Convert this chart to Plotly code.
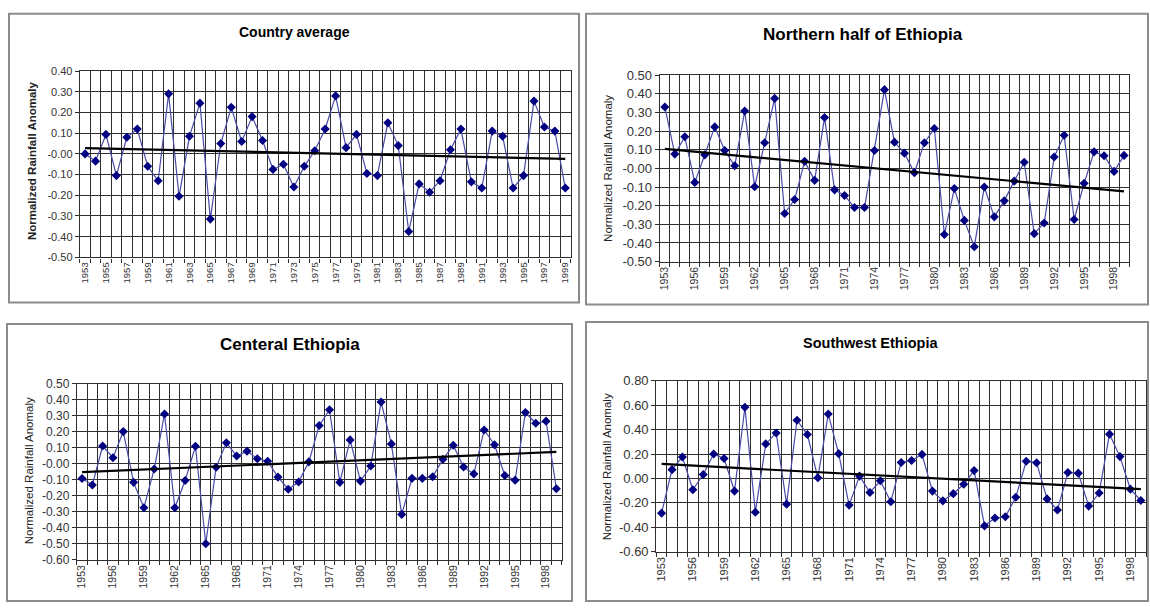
import numpy as np
import plotly.graph_objects as go

W, H = 1150, 610

years = list(range(1953, 2000))

country_avg = [0.00, -0.035, 0.094, -0.105, 0.08, 0.12, -0.06, -0.13, 0.29, -0.205,
               0.085, 0.245, -0.315, 0.05, 0.225, 0.06, 0.18, 0.065, -0.075, -0.05,
               -0.16, -0.06, 0.015, 0.12, 0.28, 0.03, 0.094, -0.095, -0.105, 0.15,
               0.04, -0.375, -0.145, -0.185, -0.13, 0.02, 0.12, -0.135, -0.165, 0.11,
               0.085, -0.165, -0.105, 0.255, 0.13, 0.11, -0.165]

northern = [0.33, 0.077, 0.17, -0.075, 0.073, 0.223, 0.096, 0.014, 0.308, -0.098,
            0.138, 0.376, -0.242, -0.167, 0.038, -0.064, 0.273, -0.115, -0.145, -0.21,
            -0.21, 0.096, 0.423, 0.141, 0.082, -0.023, 0.138, 0.214, -0.355, -0.108,
            -0.279, -0.42, -0.10, -0.26, -0.174, -0.068, 0.033, -0.35, -0.293, 0.061,
            0.178, -0.274, -0.08, 0.089, 0.068, -0.016, 0.07]

central = [-0.093, -0.133, 0.11, 0.037, 0.2, -0.117, -0.275, -0.034, 0.31, -0.275,
           -0.105, 0.108, -0.50, -0.023, 0.13, 0.048, 0.078, 0.03, 0.015, -0.084,
           -0.16, -0.115, 0.011, 0.238, 0.336, -0.117, 0.148, -0.109, -0.015, 0.385,
           0.123, -0.317, -0.092, -0.092, -0.082, 0.027, 0.115, -0.021, -0.064, 0.21,
           0.118, -0.074, -0.103, 0.319, 0.252, 0.265, -0.157]

southwest = [-0.285, 0.072, 0.176, -0.093, 0.032, 0.2, 0.163, -0.104, 0.584, -0.277,
             0.283, 0.373, -0.211, 0.477, 0.36, 0.005, 0.528, 0.203, -0.219, 0.019,
             -0.115, -0.019, -0.192, 0.131, 0.147, 0.197, -0.104, -0.184, -0.125, -0.048,
             0.064, -0.389, -0.325, -0.315, -0.155, 0.141, 0.128, -0.168, -0.259, 0.048,
             0.043, -0.227, -0.12, 0.363, 0.179, -0.088, -0.181]

titles = ["Country average", "Northern half of Ethiopia", "Centeral Ethiopia", "Southwest Ethiopia"]
y_title = "Normalized Rainfall Anomaly"
x_label_years = [list(range(1953, 2000, 2)), list(range(1953, 1999, 3)),
                 list(range(1953, 1999, 3)), list(range(1953, 1999, 3))]
y_ranges = [(-0.5, 0.4, 0.1), (-0.5, 0.5, 0.1), (-0.6, 0.5, 0.1), (-0.6, 0.8, 0.2)]
series = [country_avg, northern, central, southwest]

# layout (pixels)
panels = [
    dict(box=(7, 7, 578, 303), plot=(78, 569.5, 65.7, 256.7), title=(293, 26, 14, 'black'),
         ytitle=(30, 157, True), ytick=11, xtick=9.5),
    dict(box=(585, 7, 1148, 305), plot=(659, 1129, 70, 261), title=(862, 28, 17, 'black'),
         ytitle=(607, 165, False), ytick=13, xtick=10.5),
    dict(box=(5, 325, 571, 609), plot=(75, 560.5, 386, 566.7), title=(289, 346, 17, 'black'),
         ytitle=(27, 475, False), ytick=12, xtick=10.5),
    dict(box=(585, 323, 1148, 609), plot=(655.5, 1146, 383.3, 558.3), title=(870, 344, 14.5, 'black'),
         ytitle=(606, 471, False), ytick=13, xtick=11),
]

FONT = "Liberation Sans, Arial, sans-serif"
GRID = "#2e2e2e"
TICKC = "#333333"

fig = go.Figure()
shapes = []
annotations = []

def px_x(v):
    return v / W

def px_y(v):
    return 1 - v / H

for i, (p, ys) in enumerate(zip(panels, series)):
    n = "" if i == 0 else str(i + 1)
    xa, ya = "x" + n, "y" + n
    x0, x1, ytop, ybot = p["plot"]
    lo, hi, step = y_ranges[i]
    yt = list(np.round(np.arange(lo, hi + step / 2, step), 2))
    fig.update_layout(**{
        "xaxis" + n: dict(
            domain=[px_x(x0), px_x(x1)], anchor=ya, range=[1952.5, 1999.5],
            tickmode="array", tickvals=x_label_years[i],
            ticktext=[str(v) for v in x_label_years[i]], tickangle=-90,
            showgrid=False, zeroline=False, showline=True, linecolor=GRID, linewidth=1.3,
            mirror=True, ticks="",
            minor=dict(tickmode="array", tickvals=[y - 0.5 for y in years] + [1999.5],
                       showgrid=True, gridcolor=GRID, gridwidth=1.3,
                       ticks="outside", ticklen=4, tickcolor=GRID),
            tickfont=dict(family=FONT, size=p["xtick"], color=TICKC), fixedrange=True),
        "yaxis" + n: dict(
            domain=[px_y(ybot), px_y(ytop)], anchor=xa, range=[lo, hi],
            tickmode="array", tickvals=yt, ticktext=[f"{v:.2f}" for v in yt],
            showgrid=True, gridcolor=GRID, gridwidth=1.3, zeroline=False,
            showline=True, linecolor=GRID, linewidth=1.3, mirror=True,
            ticks="outside", ticklen=4, tickcolor=GRID,
            tickfont=dict(family=FONT, size=p["ytick"], color=TICKC), fixedrange=True),
    })
    fig.add_trace(go.Scatter(
        x=years, y=ys, xaxis=xa, yaxis=ya, mode="lines+markers",
        line=dict(color="#4a4aa8", width=1.2),
        marker=dict(symbol="diamond", size=7, color="#000080"),
        showlegend=False, hoverinfo="x+y"))
    coef = np.polyfit(years, ys, 1)
    tx = [years[0], years[-1]]
    fig.add_trace(go.Scatter(
        x=tx, y=list(np.polyval(coef, tx)), xaxis=xa, yaxis=ya, mode="lines",
        line=dict(color="black", width=2.2), showlegend=False, hoverinfo="skip"))

    bx0, by0, bx1, by1 = p["box"]
    shapes.append(dict(type="rect", xref="paper", yref="paper",
                       x0=px_x(bx0), x1=px_x(bx1), y0=px_y(by1), y1=px_y(by0),
                       line=dict(color="#8c8c8c", width=2), fillcolor="rgba(0,0,0,0)", layer="below"))
    tx_, ty_, ts, tc = p["title"]
    annotations.append(dict(text=f"<b>{titles[i]}</b>", xref="paper", yref="paper",
                            x=px_x(tx_), y=px_y(ty_), xanchor="center", yanchor="middle",
                            showarrow=False, font=dict(family=FONT, size=ts, color=tc)))
    yx, yy, bold = p["ytitle"]
    annotations.append(dict(text=(f"<b>{y_title}</b>" if bold else y_title), xref="paper", yref="paper",
                            x=px_x(yx), y=px_y(yy), xanchor="center", yanchor="middle",
                            textangle=-90, showarrow=False,
                            font=dict(family=FONT, size=11.5 if not bold else 11.5, color="#222222")))

fig.update_layout(width=W, height=H, margin=dict(l=0, r=0, t=0, b=0),
                  paper_bgcolor="white", plot_bgcolor="white",
                  shapes=shapes, annotations=annotations)

fig.write_html("out.html", config={"displayModeBar": False})
